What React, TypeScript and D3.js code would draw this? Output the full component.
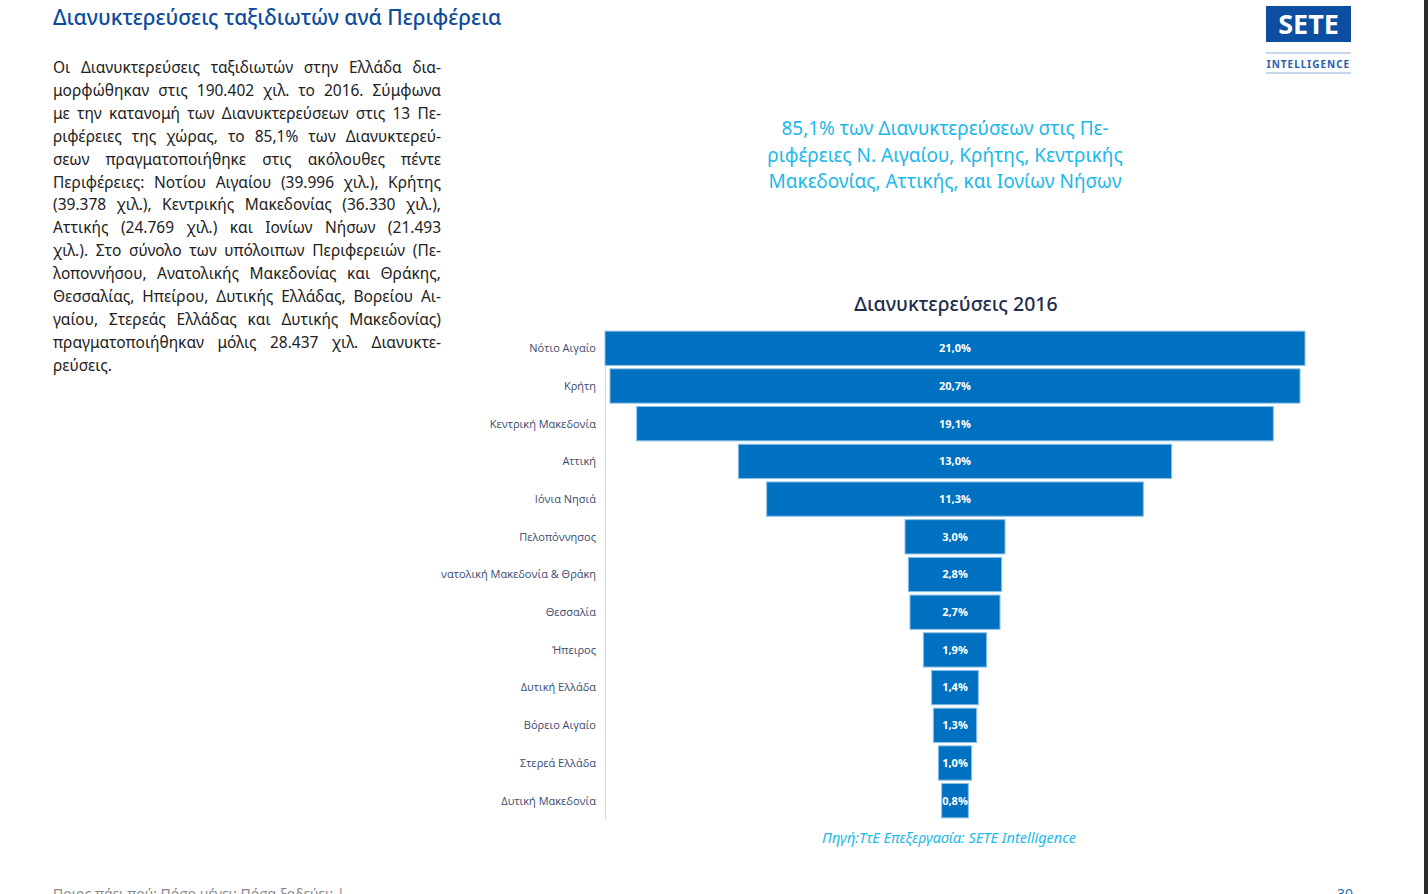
import React, { useEffect, useRef } from 'react';
import * as d3 from 'd3';

// Regions (top → bottom) and share of overnight stays 2016 (%)
const regions = [
  'Νότιο Αιγαίο',
  'Κρήτη',
  'Κεντρική Μακεδονία',
  'Αττική',
  'Ιόνια Νησιά',
  'Πελοπόννησος',
  'Ανατολική Μακεδονία & Θράκη',
  'Θεσσαλία',
  'Ήπειρος',
  'Δυτική Ελλάδα',
  'Βόρειο Αιγαίο',
  'Στερεά Ελλάδα',
  'Δυτική Μακεδονία',
];
const shares = [21.0, 20.7, 19.1, 13.0, 11.3, 3.0, 2.8, 2.7, 1.9, 1.4, 1.3, 1.0, 0.8];

const paragraphLines = [
  'Οι Διανυκτερεύσεις ταξιδιωτών στην Ελλάδα δια-',
  'μορφώθηκαν στις 190.402 χιλ. το 2016. Σύμφωνα',
  'με την κατανομή των Διανυκτερεύσεων στις 13 Πε-',
  'ριφέρειες της χώρας, το 85,1% των Διανυκτερεύ-',
  'σεων πραγματοποιήθηκε στις ακόλουθες πέντε',
  'Περιφέρειες: Νοτίου Αιγαίου (39.996 χιλ.), Κρήτης',
  '(39.378 χιλ.), Κεντρικής Μακεδονίας (36.330 χιλ.),',
  'Αττικής (24.769 χιλ.) και Ιονίων Νήσων (21.493',
  'χιλ.). Στο σύνολο των υπόλοιπων Περιφερειών (Πε-',
  'λοποννήσου, Ανατολικής Μακεδονίας και Θράκης,',
  'Θεσσαλίας, Ηπείρου, Δυτικής Ελλάδας, Βορείου Αι-',
  'γαίου, Στερεάς Ελλάδας και Δυτικής Μακεδονίας)',
  'πραγματοποιήθηκαν μόλις 28.437 χιλ. Διανυκτε-',
  'ρεύσεις.',
];

const highlightLines = [
  '85,1% των Διανυκτερεύσεων στις Πε-',
  'ριφέρειες Ν. Αιγαίου, Κρήτης, Κεντρικής',
  'Μακεδονίας, Αττικής, και Ιονίων Νήσων',
];

const W = 1428;
const H = 894;
const FONT = '"Noto Sans", "Open Sans", sans-serif';
const LABEL_FONT = '"Open Sans", "Noto Sans", sans-serif';

export default function App() {
  const paraRef = useRef<SVGGElement | null>(null);

  // justified paragraph: measure each line and stretch word spacing
  useEffect(() => {
    if (!paraRef.current) return;
    const g = d3.select(paraRef.current);
    g.selectAll('*').remove();
    const x0 = 53;
    const width = 388;
    paragraphLines.forEach((line, i) => {
      const t = g.append('text')
        .attr('x', x0)
        .attr('y', 73 + i * 22.9)
        .attr('fill', '#222')
        .style('font-family', FONT)
        .style('font-size', '15.5px')
        .text(line);
      if (i < paragraphLines.length - 1) {
        const w = (t.node() as SVGTextElement).getComputedTextLength();
        const spaces = (line.match(/ /g) || []).length;
        if (spaces > 0) t.attr('word-spacing', (width - w) / spaces);
      }
    });
  }, []);

  const cx = 955;
  const x = d3.scaleLinear().domain([0, 21]).range([0, 700]);
  const y = d3.scaleBand<string>().domain(regions).range([330, 819]).paddingInner(0.09).paddingOuter(0.03);

  return (
    <div style={{ position: 'absolute', left: 0, top: 0, width: W, height: H, background: '#fff' }}>
      <svg width={W} height={H} style={{ display: 'block' }}>
        <defs>
          <clipPath id="label-clip">
            <rect x={441} y={300} width={600} height={540} />
          </clipPath>
        </defs>

        {/* page title */}
        <text x={53} y={25} fill="#0f4c9e" style={{ fontFamily: FONT, fontSize: 21, fontWeight: 500 }}>
          Διανυκτερεύσεις ταξιδιωτών ανά Περιφέρεια
        </text>

        {/* logo */}
        <rect x={1266} y={6} width={85} height={36} fill="#0b4ea2" />
        <text x={1308.5} y={34} textAnchor="middle" fill="#fff"
          style={{ fontFamily: FONT, fontSize: 27, fontWeight: 700 }}>SETE</text>
        <line x1={1266} x2={1351} y1={53} y2={53} stroke="#8fb0dc" strokeWidth={1} />
        <text x={1308.5} y={68} textAnchor="middle" fill="#2a5ca8"
          style={{ fontFamily: FONT, fontSize: 10, fontWeight: 700, letterSpacing: 1 }}>INTELLIGENCE</text>
        <line x1={1266} x2={1351} y1={73} y2={73} stroke="#8fb0dc" strokeWidth={1} />

        {/* paragraph */}
        <g ref={paraRef} />

        {/* highlight */}
        {highlightLines.map((l, i) => (
          <text key={i} x={945} y={135 + i * 26.5} textAnchor="middle" fill="#1cb8ea"
            style={{ fontFamily: FONT, fontSize: 19 }}>{l}</text>
        ))}

        {/* chart title */}
        <text x={956} y={311} textAnchor="middle" fill="#1f2d4d"
          style={{ fontFamily: FONT, fontSize: 19.5, fontWeight: 500 }}>Διανυκτερεύσεις 2016</text>

        {/* axis line */}
        <line x1={605.5} x2={605.5} y1={330} y2={820} stroke="#d9d9d9" strokeWidth={1} />

        {/* category labels */}
        <g clipPath="url(#label-clip)">
          {regions.map((r) => (
            <text key={r} x={596} y={(y(r) ?? 0) + y.bandwidth() / 2} dy="0.35em" textAnchor="end"
              fill="#3a4a6e" style={{ fontFamily: LABEL_FONT, fontSize: 11 }}>{r}</text>
          ))}
        </g>

        {/* funnel bars */}
        {regions.map((r, i) => {
          const w = x(shares[i]);
          return (
            <rect key={r} x={cx - w / 2} y={y(r)} width={w} height={y.bandwidth()}
              fill="#0070c0" stroke="#8cc2ea" strokeWidth={1} />
          );
        })}
        {regions.map((r, i) => (
          <text key={r} x={cx} y={(y(r) ?? 0) + y.bandwidth() / 2} dy="0.35em" textAnchor="middle"
            fill="#fff" style={{ fontFamily: LABEL_FONT, fontSize: 11, fontWeight: 700 }}>
            {d3.format('.1f')(shares[i]).replace('.', ',') + '%'}
          </text>
        ))}

        {/* source */}
        <text x={949} y={843} textAnchor="middle" fill="#1cb8ea"
          style={{ fontFamily: FONT, fontSize: 14.5, fontStyle: 'italic' }}>
          Πηγή:ΤτΕ Επεξεργασία: SETE Intelligence
        </text>

        {/* footer */}
        <text x={53} y={899} fill="#888" style={{ fontFamily: FONT, fontSize: 14 }}>
          Ποιος πάει πού; Πόσο μένει; Πόσα ξοδεύει; |
        </text>
        <text x={1337} y={899} fill="#1a6fc0" style={{ fontFamily: FONT, fontSize: 14 }}>30</text>

        {/* right dark edge */}
        <rect x={1424} y={0} width={4} height={H} fill="#2b2b2b" />
      </svg>
    </div>
  );
}
